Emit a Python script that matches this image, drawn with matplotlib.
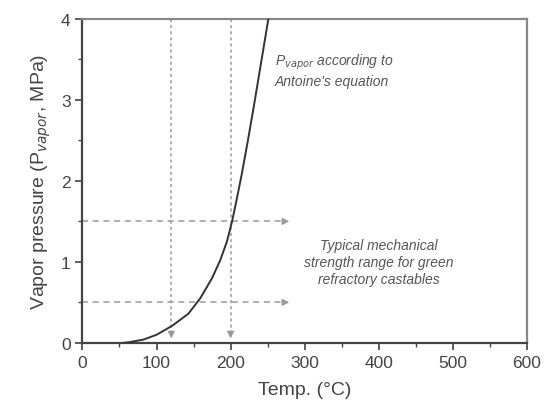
import matplotlib
matplotlib.use("Agg")
import matplotlib.pyplot as plt

# vapor pressure curve
temp_c = [55, 64, 82, 100, 121, 143, 159, 175, 186, 195, 202, 208, 215, 223, 231, 241, 251]
p_vapor = [0.0, 0.01, 0.04, 0.10, 0.21, 0.36, 0.55, 0.8, 1.02, 1.25, 1.5, 1.76, 2.08, 2.48, 2.9, 3.45, 4.0]

# guide lines
guide_temps = [120, 200]
strength_levels = [0.5, 1.5]
arrow_end = 283

plt.rcParams['font.family'] = ['Liberation Sans', 'DejaVu Sans']

fig = plt.figure(figsize=(5.46, 4.06), dpi=100)
ax = fig.add_axes([0.151, 0.153, 0.814, 0.798])

grey = '#9a9a9a'
ink = '#444444'

for t in guide_temps:
    ax.plot([t, t], [4, 0.1], color=grey, lw=1.1, ls=(0, (2, 2)), zorder=1)
    ax.annotate('', xy=(t, 0.02), xytext=(t, 0.15),
                arrowprops=dict(arrowstyle='-|>', color=grey, lw=1.0, mutation_scale=10))

for p in strength_levels:
    ax.plot([0, arrow_end - 8], [p, p], color=grey, lw=1.1, ls=(0, (4, 3)), zorder=1)
    ax.annotate('', xy=(arrow_end, p), xytext=(arrow_end - 12, p),
                arrowprops=dict(arrowstyle='-|>', color=grey, lw=1.0, mutation_scale=10))

ax.plot(temp_c, p_vapor, color='#333333', lw=1.4, zorder=3)

ax.text(260, 3.37, 'P$_{vapor}$ according to\nAntoine\'s equation', fontsize=10,
        style='italic', color='#555555', ha='left', va='center', linespacing=1.2)
ax.text(400, 1.0, 'Typical mechanical\nstrength range for green\nrefractory castables',
        fontsize=10, style='italic', color='#555555', ha='center', va='center',
        linespacing=1.25)

ax.set_xlim(0, 600)
ax.set_ylim(0, 4)
ax.set_xticks(range(0, 601, 100))
ax.set_xticks(range(50, 600, 100), minor=True)
ax.set_yticks([0, 1, 2, 3, 4])
ax.set_yticks([0.5, 1.5, 2.5, 3.5], minor=True)
ax.tick_params(which='both', direction='out', color=ink, labelcolor=ink, labelsize=12.5)
ax.tick_params(which='major', length=5, width=1.2)
ax.tick_params(which='minor', length=3, width=1.0)

for side in ['left', 'bottom']:
    ax.spines[side].set_linewidth(1.6)
    ax.spines[side].set_color(ink)
for side in ['top', 'right']:
    ax.spines[side].set_linewidth(1.6)
    ax.spines[side].set_color('#888888')

ax.set_xlabel('Temp. (°C)', fontsize=14, color=ink, labelpad=8)
ax.set_ylabel('Vapor pressure (P$_{vapor}$, MPa)', fontsize=14, color=ink, labelpad=6)

fig.savefig('out.png', dpi=100)
